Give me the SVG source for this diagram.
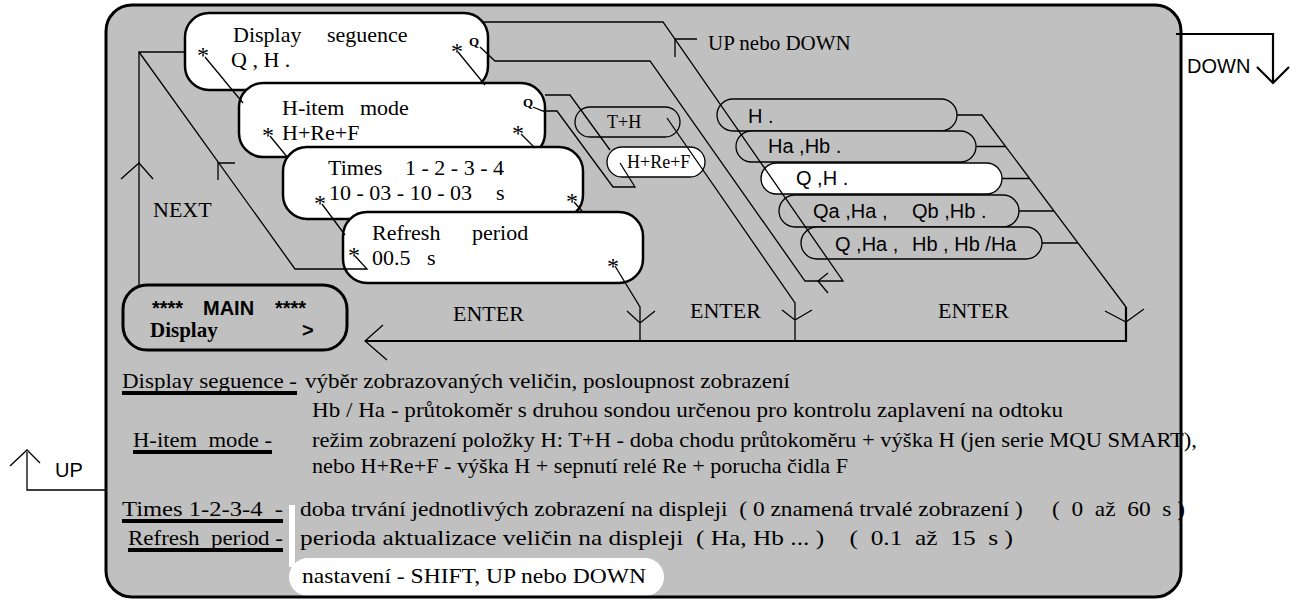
<svg xmlns="http://www.w3.org/2000/svg" width="1298" height="600" viewBox="0 0 1298 600">
<defs>
<style>
.s{font-family:"Liberation Serif","Times New Roman",serif;fill:#000}
.a{font-family:"Liberation Sans",Arial,sans-serif;fill:#000}
.box{fill:#fff;stroke:#000;stroke-width:2.5}
.opt{fill:#C0C0C0;stroke:#000;stroke-width:1.3}
.optw{fill:#fff;stroke:#000;stroke-width:1.3}
.ln{fill:none;stroke:#000;stroke-width:1.3}
.th{fill:none;stroke:#000;stroke-width:2.2}
.ul{stroke:#000;stroke-width:4}
.n{font-size:22px}
.b{font-size:20px}
.lg{font-family:"Liberation Serif","Times New Roman",serif;font-size:22px;fill:#000}
</style>
</defs>
<rect width="1298" height="600" fill="#fff"/>
<rect x="106" y="5" width="1075" height="592" rx="26" fill="#C0C0C0"/>

<g id="display-seguence">
<rect class="box" x="185" y="13" width="303" height="77" rx="24"/>
<text class="s n" x="233" y="42">Display</text><text class="s n" x="327" y="42">seguence</text>
<text class="s n" x="231" y="67">Q , H .</text>
<text class="s" font-size="24" x="203" y="63" text-anchor="middle">*</text>
<text class="s" font-size="24" x="457" y="59" text-anchor="middle">*</text>
<text class="s" font-size="13" font-weight="bold" x="469" y="46">Q</text>
</g>
<g id="h-item-mode">
<rect class="box" x="239" y="83" width="306" height="74" rx="24"/>
<text class="s n" x="282" y="115">H-item</text><text class="s n" x="360" y="115">mode</text>
<text class="s n" x="282" y="140">H+Re+F</text>
<text class="s" font-size="24" x="268" y="143" text-anchor="middle">*</text>
<text class="s" font-size="24" x="518" y="141" text-anchor="middle">*</text>
<text class="s" font-size="13" font-weight="bold" x="523" y="107">Q</text>
</g>
<g id="times">
<rect class="box" x="283" y="147" width="300" height="72" rx="24"/>
<text class="s n" x="328" y="175">Times</text><text class="s n" x="405" y="175">1 - 2 - 3 - 4</text>
<text class="s n" x="329" y="200">10 - 03 - 10 - 03</text><text class="s n" x="496" y="200">s</text>
<text class="s" font-size="24" x="320" y="211" text-anchor="middle">*</text>
<text class="s" font-size="24" x="572" y="209" text-anchor="middle">*</text>
</g>
<g id="refresh-period">
<rect class="box" x="343" y="212" width="300" height="71" rx="24"/>
<text class="s n" x="372" y="240">Refresh</text><text class="s n" x="472" y="240">period</text>
<text class="s n" x="372" y="265">00.5</text><text class="s n" x="427" y="265">s</text>
<text class="s" font-size="24" x="354" y="263" text-anchor="middle">*</text>
<text class="s" font-size="24" x="613" y="274" text-anchor="middle">*</text>
</g>
<g id="main">
<rect x="123" y="285" width="224" height="65" rx="24" fill="none" stroke="#000" stroke-width="3"/>
<text class="a b" font-weight="bold" x="152" y="315">****</text>
<text class="a b" font-weight="bold" x="203" y="315">MAIN</text>
<text class="a b" font-weight="bold" x="275" y="315">****</text>
<text class="s" font-size="21" font-weight="bold" x="150" y="337">Display</text>
<text class="a b" font-weight="bold" x="302" y="337">&gt;</text>
</g>
<g id="opt-th"><rect class="opt" x="575" y="107" width="105" height="30" rx="15"/><text class="s" font-size="18" x="607" y="128">T+H</text></g>
<g id="opt-hreff"><rect class="optw" x="607" y="147" width="98" height="30" rx="15"/><text class="s" font-size="18" x="627" y="168">H+Re+F</text></g>
<g id="opt-h"><rect class="opt" x="717" y="99" width="240" height="32" rx="16"/><text class="a b" x="748" y="123">H .</text></g>
<g id="opt-hahb"><rect class="opt" x="736" y="131" width="240" height="31" rx="15.5"/><text class="a b" x="768" y="153">Ha ,Hb .</text></g>
<g id="opt-qh"><rect class="optw" x="761" y="163" width="241" height="31" rx="15.5"/><text class="a b" x="796" y="185">Q ,H .</text></g>
<g id="opt-qaha"><rect class="opt" x="779" y="195" width="240" height="32" rx="16"/><text class="a b" x="813" y="218">Qa ,Ha ,</text><text class="a b" x="912" y="218">Qb ,Hb .</text></g>
<g id="opt-qhahb"><rect class="opt" x="801" y="227" width="241" height="32" rx="16"/><text class="a b" x="835" y="251">Q ,Ha ,</text><text class="a b" x="912" y="251">Hb , Hb /Ha</text></g>

<g id="connectors">
<path class="ln" d="M139 285V52H185"/>
<path class="ln" d="M121 179L139 163L153 179"/>
<path class="ln" d="M139 52L295 269H367L355 256"/>
<path class="ln" d="M235 163H218V180"/>
<path class="ln" d="M205 57L243 103M270 136L288 158M322 204L345 235M458 52L485 85M521 134L535 148M574 202L582 211"/>
<path class="ln" d="M615 266L640 307V341M627 311L640 323L655 311"/>
<path class="th" d="M365 341H1126V307"/>
<path class="ln" d="M383 325L365 341L387 360"/>
<path class="ln" d="M1126 307L982 115H957M976 146.5H1006M1002 178.5H1030M1019 211H1054M1042 243H1078"/>
<path class="ln" d="M1105 311L1126 322L1144 309"/>
<path class="ln" d="M667 118L795 303V341M782 310L795 320L812 310"/>
<path class="ln" d="M480 47L495 61H650L805 281H843L663 22H483"/>
<path class="ln" d="M828 273L818 281L828 293M697 39H675V57"/>
<path class="ln" d="M533 107L543 111H557L613 187H635L620 163M545 95H570L610 150"/>
<path class="th" d="M1176 34H1273V83M1257 67L1273 83L1289 67"/>
<path class="ln" d="M106 490H27V452M10 466L27 450L40 463"/>
</g>
<g id="labels">
<text class="s" font-size="21" x="708" y="50">UP nebo DOWN</text>
<text class="s n" x="453" y="321">ENTER</text>
<text class="s n" x="690" y="318">ENTER</text>
<text class="s n" x="938" y="318">ENTER</text>
<text class="s n" x="153" y="217">NEXT</text>
<text class="a" font-size="20" x="1187" y="73">DOWN</text>
<text class="a" font-size="20" x="55" y="477">UP</text>
</g>
<g id="legend">
<rect x="289" y="505" width="6" height="62" fill="#fff"/>
<rect x="289" y="558" width="375" height="38" rx="19" fill="#fff"/>
<text class="lg" x="122" y="388" textLength="175" lengthAdjust="spacingAndGlyphs">Display seguence -</text>
<line class="ul" x1="122" y1="393" x2="297" y2="393"/>
<text class="lg" x="305" y="388" textLength="485" lengthAdjust="spacingAndGlyphs">výběr zobrazovaných veličin, posloupnost zobrazení</text>
<text class="lg" x="312" y="417" textLength="751" lengthAdjust="spacingAndGlyphs">Hb / Ha - průtokoměr s druhou sondou určenou pro kontrolu zaplavení na odtoku</text>
<text class="lg" x="133" y="447" textLength="139" lengthAdjust="spacingAndGlyphs" xml:space="preserve">H-item  mode -</text>
<line class="ul" x1="133" y1="452" x2="272" y2="452"/>
<text class="lg" x="312" y="447" textLength="885" lengthAdjust="spacingAndGlyphs">režim zobrazení položky H: T+H - doba chodu průtokoměru + výška H (jen serie MQU SMART),</text>
<text class="lg" x="312" y="473" textLength="536" lengthAdjust="spacingAndGlyphs">nebo H+Re+F - výška H + sepnutí relé Re + porucha čidla F</text>
<text class="lg" x="122" y="516" textLength="161" lengthAdjust="spacingAndGlyphs" xml:space="preserve">Times 1-2-3-4  -</text>
<line class="ul" x1="122" y1="521" x2="283" y2="521"/>
<text class="lg" x="300" y="516" textLength="885" lengthAdjust="spacingAndGlyphs" xml:space="preserve">doba trvání jednotlivých zobrazení na displeji  ( 0 znamená trvalé zobrazení )     (  0  až  60  s )</text>
<text class="lg" x="128" y="545" textLength="155" lengthAdjust="spacingAndGlyphs" xml:space="preserve">Refresh  period -</text>
<line class="ul" x1="128" y1="550" x2="283" y2="550"/>
<text class="lg" x="300" y="545" textLength="713" lengthAdjust="spacingAndGlyphs" xml:space="preserve">perioda aktualizace veličin na displeji  ( Ha, Hb ... )    (  0.1  až  15  s )</text>
<text class="lg" x="302" y="583" textLength="344" lengthAdjust="spacingAndGlyphs">nastavení - SHIFT, UP nebo DOWN</text>
</g>
<rect x="106" y="5" width="1075" height="592" rx="26" fill="none" stroke="#000" stroke-width="3"/>
</svg>
